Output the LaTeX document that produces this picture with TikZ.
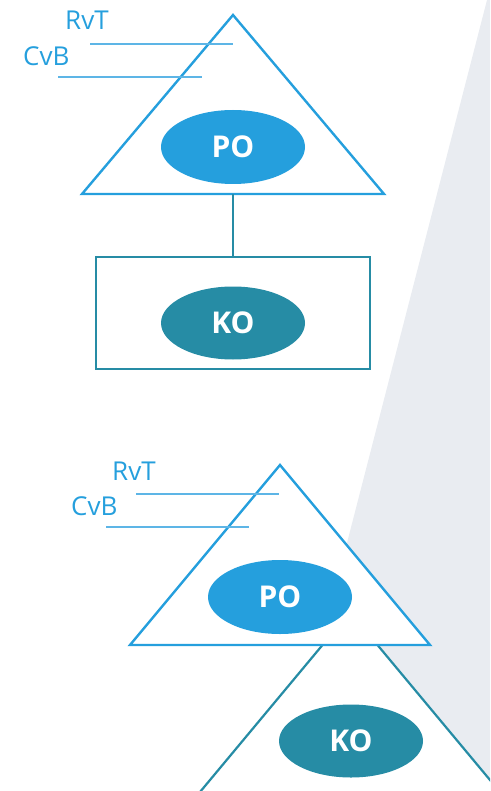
\documentclass[tikz,border=0pt]{standalone}
\usepackage{fontspec}
\setmainfont{Open Sans}
\usetikzlibrary{shapes.geometric}
\definecolor{poblue}{HTML}{259FDD}
\definecolor{koteal}{HTML}{268CA5}
\definecolor{bggray}{HTML}{E9ECF1}
\definecolor{lineblue}{HTML}{5DB5E6}

\begin{document}
\begin{tikzpicture}[x=1pt,y=-1pt,
  tri/.style={draw=poblue, line width=2.4pt, fill=white, line join=miter},
  kotri/.style={draw=koteal, line width=2.2pt, fill=white},
  kobox/.style={draw=koteal, line width=2.4pt, fill=white, minimum width=274pt, minimum height=112pt, inner sep=0pt},
  orgpo/.style={ellipse, fill=poblue, text=white, minimum width=144pt, minimum height=74pt, inner sep=0pt,
    font=\fontsize{30}{35}\selectfont\bfseries},
  orgko/.style={ellipse, fill=koteal, text=white, minimum width=144pt, minimum height=73pt, inner sep=0pt,
    font=\fontsize{30}{35}\selectfont\bfseries},
  role/.style={anchor=base west, inner sep=0pt, text=poblue, font=\fontsize{26}{31}\selectfont},
  tick/.style={draw=lineblue, line width=1.8pt},
  link/.style={draw=koteal, line width=1.5pt}
]
\useasboundingbox (0,0) rectangle (490,791);
\begin{scope}
\clip (0,0) rectangle (490,791);

% background wedge
\fill[bggray] (487,0) -- (490,0) -- (490,791) -- (283,791) -- cycle;

% ---- upper structure: triangle over box ----
\coordinate (apexA) at (233,15);
\coordinate (baseAl) at (82,194);
\coordinate (baseAr) at (384,194);
\coordinate (baseA) at (233,194);
\path[tri] (apexA) -- (baseAr) -- (baseAl) -- cycle;
\node[orgpo] (poA) at (233,147) {PO};

\node[kobox] (boxA) at (233,313) {};
\node[orgko] (koA) at (233,323) {KO};
\draw[link] (baseA) -- (boxA.north);

\node[role] (rvtA) at (65,30) {RvT};
\node[role] (cvbA) at (23,66) {CvB};
\coordinate (rvtAs) at (90,44);  \coordinate (rvtAe) at (233,44);
\coordinate (cvbAs) at (58,77);  \coordinate (cvbAe) at (202,77);
\draw[tick] (rvtAs) -- (rvtAe);
\draw[tick] (cvbAs) -- (cvbAe);

% ---- lower structure: triangle over triangle ----
\coordinate (apexK) at (350,612);
\coordinate (baseKl) at (110,900);
\coordinate (baseKr) at (590,900);
\path[kotri] (apexK) -- (baseKr) -- (baseKl) -- cycle;
\node[orgko] (koB) at (351,741) {KO};

\coordinate (apexB) at (280,465);
\coordinate (baseBl) at (130,645);
\coordinate (baseBr) at (430,645);
\path[tri] (apexB) -- (baseBr) -- (baseBl) -- cycle;
\node[orgpo] (poB) at (280,597) {PO};

\node[role] (rvtB) at (112,480) {RvT};
\node[role] (cvbB) at (71,515) {CvB};
\coordinate (rvtBs) at (136,494); \coordinate (rvtBe) at (279,494);
\coordinate (cvbBs) at (106,527); \coordinate (cvbBe) at (249,527);
\draw[tick] (rvtBs) -- (rvtBe);
\draw[tick] (cvbBs) -- (cvbBe);
\end{scope}
\end{tikzpicture}
\end{document}
